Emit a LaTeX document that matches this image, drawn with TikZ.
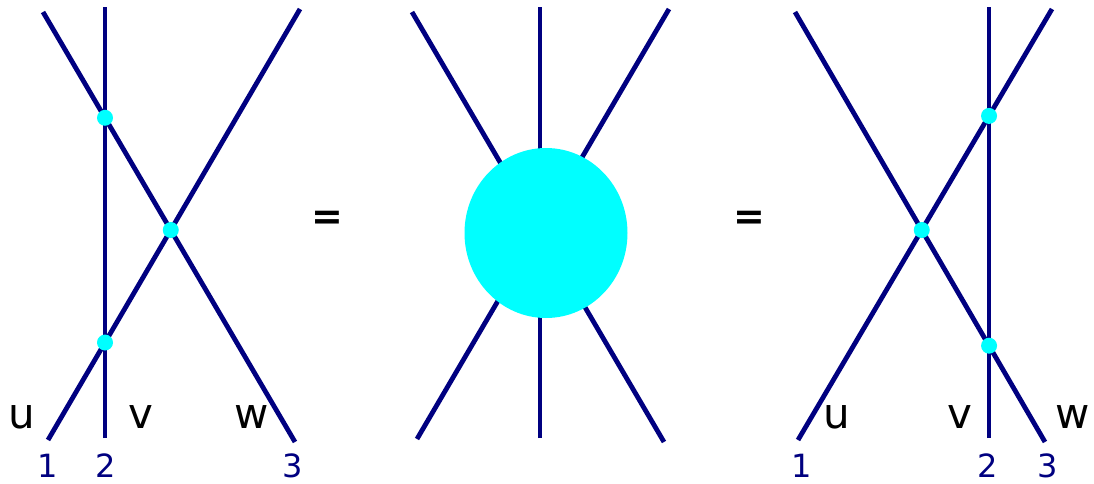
\documentclass[tikz,border=0pt]{standalone}
\usepackage{fontspec}
\setmainfont{DejaVu Sans}
\usetikzlibrary{shapes.geometric, positioning}
\definecolor{strandblue}{RGB}{0,0,128}
\definecolor{vertexcyan}{RGB}{0,255,255}

\begin{document}
\begin{tikzpicture}[x=0.5pt, y=-0.5pt,
  strand/.style={draw=strandblue, line width=2.4pt},
  vertex/.style={circle, fill=vertexcyan, inner sep=0pt, minimum size=8pt},
  blob/.style={ellipse, fill=vertexcyan, inner sep=0pt,
               minimum width=81.5pt, minimum height=85pt},
  letter/.style={font=\fontsize{21}{21}\selectfont, text=black, inner sep=0pt},
  index/.style={font=\fontsize{16}{16}\selectfont, text=strandblue, inner sep=0pt},
  equal/.style={font=\fontsize{19}{19}\selectfont\bfseries, inner sep=0pt}]

  \useasboundingbox (0,0) rectangle (1094,483);

  % Links: drei Linien mit drei Vertizes
  \coordinate (lu0) at (48,440);  \coordinate (lu1) at (300,9);
  \coordinate (lv0) at (105,438); \coordinate (lv1) at (105,7);
  \coordinate (lw0) at (295,442); \coordinate (lw1) at (43,12);
  \draw[strand] (lu0) -- (lu1);
  \draw[strand] (lv0) -- (lv1);
  \draw[strand] (lw0) -- (lw1);
  \node[vertex] (luv) at (intersection of lu0--lu1 and lv0--lv1) {};
  \node[vertex] (lvw) at (intersection of lv0--lv1 and lw0--lw1) {};
  \node[vertex] (luw) at (intersection of lu0--lu1 and lw0--lw1) {};

  \node[letter] (lu) at (22,417) {u};
  \node[letter] (lv) at (141,417) {v};
  \node[letter] (lw) at (252,417) {w};
  \node[index] (l1) at (48,466) {1};
  \node[index] (l2) at (106,466) {2};
  \node[index] (l3) at (293,466) {3};

  \node[equal] (eq1) at (327,220) {=};

  % Mitte: Blob
  \coordinate (mu0) at (417,439); \coordinate (mu1) at (669,9);
  \coordinate (mv0) at (540,438); \coordinate (mv1) at (540,7);
  \coordinate (mw0) at (664,442); \coordinate (mw1) at (412,12);
  \draw[strand] (mu0) -- (mu1);
  \draw[strand] (mv0) -- (mv1);
  \draw[strand] (mw0) -- (mw1);
  \node[blob] (core) at (546,233) {};

  \node[equal] (eq2) at (749,220) {=};

  % Rechts: gespiegelte Reihenfolge
  \coordinate (ru0) at (798,440);  \coordinate (ru1) at (1052,9);
  \coordinate (rv0) at (989,438);  \coordinate (rv1) at (989,7);
  \coordinate (rw0) at (1045,442); \coordinate (rw1) at (795,12);
  \draw[strand] (ru0) -- (ru1);
  \draw[strand] (rv0) -- (rv1);
  \draw[strand] (rw0) -- (rw1);
  \node[vertex] (ruv) at (intersection of ru0--ru1 and rv0--rv1) {};
  \node[vertex] (rvw) at (intersection of rv0--rv1 and rw0--rw1) {};
  \node[vertex] (ruw) at (intersection of ru0--ru1 and rw0--rw1) {};

  \node[letter] (ru) at (837,417) {u};
  \node[letter] (rv) at (960,417) {v};
  \node[letter] (rw) at (1073,417) {w};
  \node[index] (r1) at (802,466) {1};
  \node[index] (r2) at (988,466) {2};
  \node[index] (r3) at (1048,466) {3};
\end{tikzpicture}
\end{document}
